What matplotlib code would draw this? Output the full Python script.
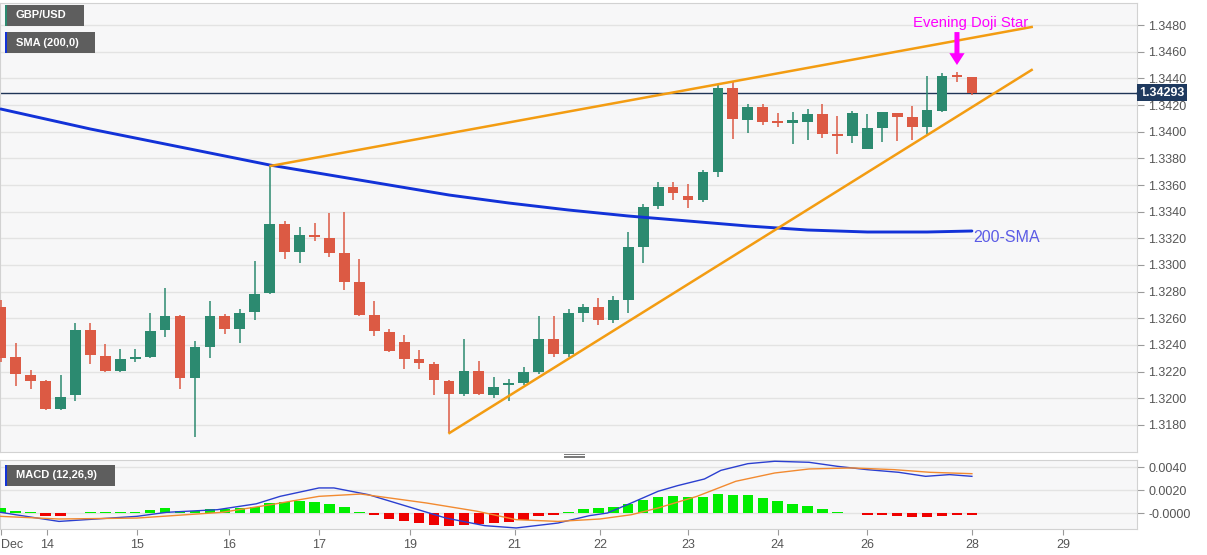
import numpy as np
import matplotlib
matplotlib.use('Agg')
import matplotlib.pyplot as plt
from matplotlib.patches import Rectangle
from matplotlib.lines import Line2D
from matplotlib.transforms import blended_transform_factory

plt.rcParams['font.family'] = ['Liberation Sans', 'DejaVu Sans']

# ---- GBP/USD 4H candles ----
opens = [1.32685, 1.32310, 1.32175, 1.32130, 1.31920, 1.32025, 1.32513, 1.32318, 1.32205, 1.32295,
         1.32310, 1.32513, 1.32618, 1.32153, 1.32385, 1.32618, 1.32520, 1.32648, 1.32790, 1.33308,
         1.33098, 1.33225, 1.33203, 1.33090, 1.32873, 1.32625, 1.32498, 1.32423, 1.32295, 1.32258,
         1.32130, 1.32033, 1.32205, 1.32025, 1.32100, 1.32115, 1.32198, 1.32445, 1.32333, 1.32640,
         1.32685, 1.32588, 1.32738, 1.33135, 1.33443, 1.33585, 1.33518, 1.33488, 1.33698, 1.34327,
         1.34088, 1.34185, 1.34073, 1.34065, 1.34073, 1.34133, 1.33983, 1.33968, 1.33870, 1.34028,
         1.34140, 1.34110, 1.34035, 1.34155, 1.34418, 1.34410]
highs = [1.32738, 1.32415, 1.32213, 1.32138, 1.32175, 1.32565, 1.32565, 1.32408, 1.32370, 1.32370,
         1.32640, 1.32828, 1.32625, 1.32430, 1.32730, 1.32633, 1.32670, 1.33030, 1.33743, 1.33330,
         1.33285, 1.33315, 1.33390, 1.33398, 1.33045, 1.32730, 1.32520, 1.32475, 1.32363, 1.32273,
         1.32138, 1.32445, 1.32280, 1.32160, 1.32145, 1.32235, 1.32618, 1.32618, 1.32670, 1.32708,
         1.32753, 1.32768, 1.33248, 1.33458, 1.33623, 1.33623, 1.33608, 1.33713, 1.34350, 1.34372,
         1.34208, 1.34208, 1.34140, 1.34148, 1.34170, 1.34208, 1.34118, 1.34155, 1.34133, 1.34148,
         1.34140, 1.34193, 1.34418, 1.34440, 1.34448, 1.34410]
lows = [1.32273, 1.32093, 1.32070, 1.31912, 1.31912, 1.31980, 1.32258, 1.32198, 1.32198, 1.32273,
        1.32303, 1.32460, 1.32070, 1.31710, 1.32303, 1.32483, 1.32415, 1.32588, 1.32783, 1.33045,
        1.33015, 1.33180, 1.33060, 1.32813, 1.32618, 1.32468, 1.32348, 1.32220, 1.32220, 1.32025,
        1.31740, 1.32018, 1.32025, 1.32003, 1.31980, 1.32100, 1.32183, 1.32310, 1.32310, 1.32573,
        1.32550, 1.32565, 1.32640, 1.33015, 1.33420, 1.33488, 1.33428, 1.33473, 1.33660, 1.33945,
        1.33990, 1.34050, 1.34035, 1.33908, 1.33938, 1.33953, 1.33833, 1.33915, 1.33870, 1.33923,
        1.33930, 1.33938, 1.33983, 1.34148, 1.34373, 1.34275]
closes = [1.32303, 1.32183, 1.32130, 1.31920, 1.32010, 1.32513, 1.32325, 1.32205, 1.32295, 1.32310,
          1.32505, 1.32618, 1.32153, 1.32385, 1.32618, 1.32520, 1.32640, 1.32783, 1.33308, 1.33098,
          1.33225, 1.33210, 1.33090, 1.32873, 1.32625, 1.32505, 1.32355, 1.32295, 1.32265, 1.32138,
          1.32033, 1.32205, 1.32033, 1.32085, 1.32115, 1.32198, 1.32445, 1.32333, 1.32640, 1.32685,
          1.32588, 1.32738, 1.33135, 1.33435, 1.33585, 1.33540, 1.33488, 1.33698, 1.34327, 1.34095,
          1.34185, 1.34073, 1.34065, 1.34088, 1.34133, 1.33983, 1.33968, 1.34140, 1.34028, 1.34148,
          1.34110, 1.34035, 1.34163, 1.34418, 1.34410, 1.34293]
last_price = 1.34293

# 200-SMA (bar index, value)
sma_x = [0, 3, 6, 9, 12, 15, 18, 22, 26, 30, 34, 38, 42, 46, 50, 54, 58, 62, 65]
sma_v = [1.341700, 1.340950, 1.340200, 1.339525, 1.338850, 1.338175, 1.337500, 1.336750,
         1.336000, 1.335250, 1.334650, 1.334125, 1.333675, 1.333300, 1.332925, 1.332625,
         1.332475, 1.332475, 1.332550]

# rising wedge lines
upper_x = [18.06, 69.0]
upper_y = [1.33743, 1.34785]
lower_x = [30.03, 69.0]
lower_y = [1.31740, 1.34463]

# MACD (12,26,9)
hist = [0.00040, 0.00020, 0.00005, -0.00023, -0.00023, -0.00003, 0.00005, 0.00005, 0.00006, 0.00012,
        0.00029, 0.00040, 0.00020, 0.00020, 0.00032, 0.00035, 0.00043, 0.00052, 0.00087, 0.00093,
        0.00101, 0.00099, 0.00081, 0.00049, 0.00012, -0.00017, -0.00052, -0.00072, -0.00087, -0.00101,
        -0.00110, -0.00101, -0.00093, -0.00087, -0.00075, -0.00058, -0.00029, -0.00015, 0.00012, 0.00035,
        0.00040, 0.00052, 0.00081, 0.00116, 0.00142, 0.00151, 0.00136, 0.00136, 0.00168, 0.00160,
        0.00154, 0.00130, 0.00107, 0.00081, 0.00064, 0.00035, 0.00012, 0.00003, -0.00015, -0.00017,
        -0.00023, -0.00035, -0.00035, -0.00023, -0.00017, -0.00017]
macd_x = [0, 1.0, 3.9, 9.1, 11.1, 14.5, 17.1, 18.7, 21.3, 22.3, 24.6, 27.2, 29.8, 32.4, 34.5, 37.3,
          39.4, 40.6, 42.2, 44.0, 45.3, 47.1, 48.2, 50.0, 51.8, 54.1, 56.0, 58.0, 60.1, 61.9, 63.5, 65.0]
macd_v = [0.00006, -0.00015, -0.00073, -0.00029, 0.00006, 0.00029, 0.00080, 0.00145, 0.00218, 0.00218,
          0.00160, 0.00058, -0.00044, -0.00110, -0.00130, -0.00087, -0.00023, 0.00000, 0.00087, 0.00189,
          0.00238, 0.00296, 0.00371, 0.00429, 0.00450, 0.00441, 0.00406, 0.00377, 0.00354, 0.00319,
          0.00334, 0.00319]
sig_x = [0, 3.9, 9.1, 14.8, 18.1, 21.3, 24.1, 28.5, 31.9, 34.5, 37.3, 40.1, 42.2, 44.0, 46.6, 49.2,
         51.8, 54.1, 57.0, 59.8, 62.2, 65.0]
sig_v = [-0.00029, -0.00052, -0.00044, 0.00006, 0.00073, 0.00145, 0.00165, 0.00087, 0.00015, -0.00058,
         -0.00073, -0.00052, -0.00015, 0.00044, 0.00145, 0.00276, 0.00348, 0.00383, 0.00392, 0.00377,
         0.00354, 0.00342]

date_pos = [0, 3.1, 9.1, 15.25, 21.3, 27.4, 34.4, 40.1, 46.0, 52.0, 58.0, 65.0, 71.1]
date_labels = ['Dec', '14', '15', '16', '17', '19', '21', '22', '23', '24', '26', '28', '29']
price_ticks = [1.318 + 0.002 * k for k in range(16)]

GREEN = '#2c8a70'
RED = '#dc5a44'
W, H = 1207, 555

fig = plt.figure(figsize=(W / 100, H / 100), dpi=100)
fig.set_facecolor('white')


def fbox(x0, y0, x1, y1):
    ''' pixel box -> figure fraction rect '''
    return [x0 / W, 1 - y1 / H, (x1 - x0) / W, (y1 - y0) / H]


ax = fig.add_axes(fbox(0, 3, 1137, 452))
axm = fig.add_axes(fbox(0, 460, 1137, 529))

for a in (ax, axm):
    a.set_facecolor('#f7f7f8')
    a.set_xlim(-0.05, 76.05)
    for s in a.spines.values():
        s.set_color('#d2d2d2')
    a.yaxis.tick_right()
    a.tick_params(axis='y', length=5, color='#9a9a9a', labelcolor='#555555', labelsize=9, pad=3)
    a.grid(axis='y', color='#e3e3e3', lw=1)
    a.set_axisbelow(True)

# main panel
ax.set_ylim(1.315975, 1.349650)
ax.set_yticks(price_ticks)
ax.set_yticklabels(['%.4f' % t for t in price_ticks])
ax.tick_params(axis='x', bottom=False, labelbottom=False)

o, h, l, c = map(np.array, (opens, highs, lows, closes))
x = np.arange(len(o))
cols = np.where(c >= o, GREEN, RED)
ax.vlines(x, l, h, color=cols, lw=1.1, zorder=3)
body_lo = np.minimum(o, c)
body_h = np.maximum(np.abs(c - o), 0.00012)
ax.bar(x, body_h, bottom=body_lo, width=0.72, color=cols, linewidth=0, zorder=4)

ax.axhline(last_price, color='#1f3557', lw=1, zorder=2)
ax.plot(sma_x, sma_v, color='#1232d8', lw=2.1, zorder=5, solid_capstyle='round',
        solid_joinstyle='round')
ax.plot(upper_x, upper_y, color='#f39c12', lw=1.8, zorder=5)
ax.plot(lower_x, lower_y, color='#f39c12', lw=1.8, zorder=5)

ax.text(65.1, 1.3321, '200-SMA', color='#5b5be6', fontsize=11.5, ha='left', va='center', zorder=6)
ax.text(64.9, 1.34785, 'Evening Doji Star', color='#ff00ff', fontsize=10.7,
        ha='center', va='baseline', zorder=6)
ax.annotate('', xy=(64.0, 1.34500), xytext=(64.0, 1.34747),
            arrowprops=dict(facecolor='#ff00ff', edgecolor='none', width=3.6,
                            headwidth=11, headlength=8.5, shrink=0), zorder=7)

# current price tag
trans = blended_transform_factory(ax.transAxes, ax.transData)
ax.text(1162 / 1137, last_price, '%.5f' % last_price, transform=trans, ha='center', va='center',
        color='white', fontsize=9, fontweight='bold', clip_on=False, zorder=10,
        bbox=dict(boxstyle='square,pad=0.22', fc='#1f3a5f', ec='none'))
ax.plot([1.0 + 2 / 1137], [last_price], marker='<', ms=5, color='#1f3a5f', transform=trans,
        clip_on=False, zorder=10)

# MACD panel
axm.set_ylim(-0.00139, 0.00461)
axm.set_yticks([0.0, 0.002, 0.004])
axm.set_yticklabels(['-0.0000', '0.0020', '0.0040'])
hcols = np.where(np.array(hist) >= 0, '#00ee00', '#ee0000')
axm.bar(x, hist, width=0.7, color=hcols, linewidth=0, zorder=3)
axm.plot(macd_x, macd_v, color='#2b3fd0', lw=1, zorder=4)
axm.plot(sig_x, sig_v, color='#f28a30', lw=1, zorder=4)
axm.set_xticks(date_pos)
axm.set_xticklabels(date_labels)
axm.tick_params(axis='x', length=4, color='#9a9a9a', labelcolor='#555555', labelsize=9, pad=3)
axm.get_xticklabels()[0].set_ha('left')

# legend boxes, top left
def label_box(x0, y0, x1, y1, text, accent):
    fig.add_artist(Rectangle((x0 / W, 1 - y1 / H), (x1 - x0) / W, (y1 - y0) / H,
                             transform=fig.transFigure, fc='#5e5e5e', ec='none', zorder=20))
    fig.add_artist(Rectangle((x0 / W, 1 - y1 / H), 2 / W, (y1 - y0) / H,
                             transform=fig.transFigure, fc=accent, ec='none', zorder=21))
    fig.text((x0 + 11) / W, 1 - (y0 + y1) / 2 / H, text, color='white', fontsize=8,
             fontweight='bold', ha='left', va='center', zorder=22)

label_box(5, 5, 84, 26, 'GBP/USD', GREEN)
label_box(5, 32, 95, 53, 'SMA (200,0)', '#1232d8')
label_box(5, 465, 115, 486, 'MACD (12,26,9)', '#1232d8')

# panel resize handle
for yy in (454, 455.5, 457):
    fig.add_artist(Line2D([564 / W, 584 / W], [1 - yy / H] * 2, color='#777777', lw=0.7,
                          transform=fig.transFigure))

fig.savefig('out.png', dpi=100)
